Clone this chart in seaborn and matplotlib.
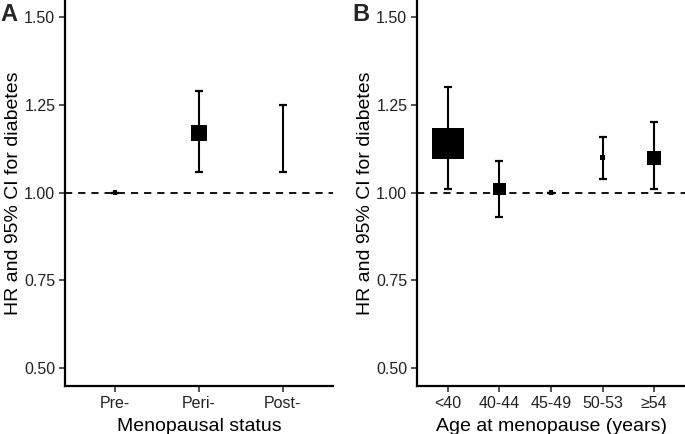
import numpy as np
import pandas as pd
import matplotlib
matplotlib.use("Agg")
import matplotlib.pyplot as plt
import seaborn as sns

# Panel A data
status_cats = ["Pre-", "Peri-", "Post-"]
status_hr = [1.00, 1.17, 1.15]
status_lo = [1.00, 1.06, 1.06]
status_hi = [1.00, 1.29, 1.25]
status_wt = [3.2, 11.0, 0.5]

# Panel B data
age_cats = ["<40", "40-44", "45-49", "50-53", "\u226554"]
age_hr = [1.14, 1.01, 1.00, 1.10, 1.10]
age_lo = [1.01, 0.93, 1.00, 1.04, 1.01]
age_hi = [1.30, 1.09, 1.00, 1.16, 1.20]
age_wt = [23.0, 8.8, 3.2, 3.2, 10.0]

yticks = [0.50, 0.75, 1.00, 1.25, 1.50]

sns.set_theme(style="ticks")
plt.rcParams["font.family"] = ["Liberation Sans", "DejaVu Sans"]

fig = plt.figure(figsize=(6.85, 4.34), dpi=100)
axA = fig.add_axes([65/685, 48/434, (333-65)/685, 1 - 48/434])
axB = fig.add_axes([417/685, 48/434, (685-417)/685, 1 - 48/434])

def panel(ax, cats, hr, lo, hi, wt, xlabel, letter, lx):
    df = pd.DataFrame({"cat": cats, "hr": hr, "lo": lo, "hi": hi, "wt": wt})
    x = np.arange(len(cats))
    ax.axhline(1.0, color="black", lw=1.3, dashes=(4.0, 3.3), zorder=1)
    ax.errorbar(x, df["hr"], yerr=[df["hr"] - df["lo"], df["hi"] - df["hr"]],
                fmt="none", ecolor="black", elinewidth=1.5, capsize=3.2,
                capthick=1.6, zorder=2)
    sns.scatterplot(data=df, x=x, y="hr", marker="s", color="black",
                    s=df["wt"].values ** 2, linewidth=0, ax=ax, zorder=3,
                    legend=False)
    ax.set_xlim(-0.6, len(cats) - 0.4)
    ax.set_ylim(0.449, 1.549)
    ax.set_xticks(x)
    ax.set_xticklabels(cats)
    ax.set_yticks(yticks)
    ax.set_yticklabels([f"{v:.2f}" for v in yticks])
    ax.tick_params(axis="both", labelsize=11.5, colors="#222222",
                   length=4, width=1.1, direction="out", pad=3)
    ax.tick_params(axis="both", color="#222222")
    for s in ["top", "right"]:
        ax.spines[s].set_visible(False)
    for s in ["left", "bottom"]:
        ax.spines[s].set_linewidth(1.6)
        ax.spines[s].set_color("black")
    ax.set_xlabel(xlabel, fontsize=14, color="black", labelpad=5)
    ax.set_ylabel("HR and 95% CI for diabetes", fontsize=14, color="black",
                  labelpad=1.5)
    fig.text(lx, 1 - 3/434, letter, fontsize=17, fontweight="bold",
             ha="left", va="top")

panel(axA, status_cats, status_hr, status_lo, status_hi, status_wt,
      "Menopausal status", "A", 0/685)
panel(axB, age_cats, age_hr, age_lo, age_hi, age_wt,
      "Age at menopause (years)", "B", 352/685)

fig.savefig("out.png", dpi=100)
